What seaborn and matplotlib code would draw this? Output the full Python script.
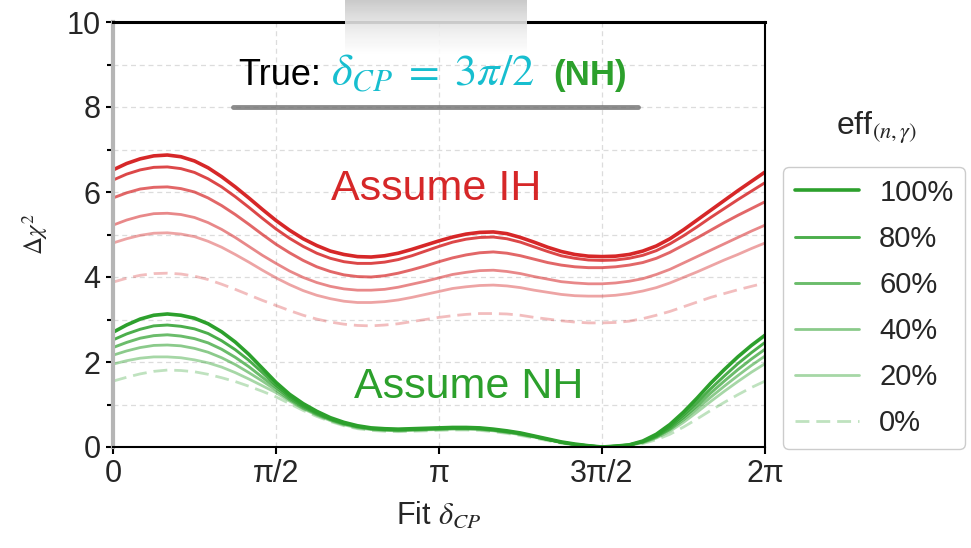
import numpy as np
import matplotlib
matplotlib.use("Agg")
import matplotlib.pyplot as plt
from matplotlib.lines import Line2D
import seaborn as sns

# Fit delta_CP sampled every pi/24 from 0 to 2*pi
fit_steps = list(range(49))
efficiency_labels = ["100%", "80%", "60%", "40%", "20%", "0%"]
x_tick_labels = ["0", "π/2", "π", "3π/2", "2π"]

# Delta chi^2 when the inverted hierarchy is assumed
ih_100 = [6.52, 6.67, 6.78, 6.85, 6.87, 6.83, 6.73, 6.57, 6.36, 6.12, 5.86, 5.59, 5.33, 5.10, 4.90, 4.74, 4.61,
          4.53, 4.48, 4.47, 4.50, 4.56, 4.65, 4.75, 4.85, 4.94, 5.01, 5.05, 5.06, 5.02, 4.93, 4.82, 4.70,
          4.60, 4.53, 4.49, 4.48, 4.49, 4.53, 4.61, 4.73, 4.90, 5.11, 5.34, 5.57, 5.80, 6.03, 6.25, 6.47]
ih_80 = [6.28, 6.42, 6.52, 6.58, 6.59, 6.55, 6.46, 6.31, 6.12, 5.89, 5.64, 5.38, 5.13, 4.91, 4.72, 4.56, 4.44,
         4.36, 4.32, 4.32, 4.35, 4.41, 4.50, 4.61, 4.72, 4.82, 4.89, 4.93, 4.94, 4.90, 4.82, 4.71, 4.60,
         4.50, 4.44, 4.40, 4.39, 4.40, 4.44, 4.51, 4.62, 4.78, 4.97, 5.18, 5.40, 5.61, 5.82, 6.02, 6.22]
ih_60 = [5.86, 5.98, 6.07, 6.11, 6.12, 6.08, 6.00, 5.86, 5.68, 5.47, 5.24, 5.00, 4.77, 4.57, 4.39, 4.24, 4.13,
         4.05, 4.01, 4.00, 4.03, 4.09, 4.17, 4.26, 4.36, 4.45, 4.52, 4.57, 4.59, 4.56, 4.50, 4.42, 4.34,
         4.28, 4.24, 4.22, 4.22, 4.24, 4.28, 4.34, 4.44, 4.58, 4.75, 4.92, 5.10, 5.28, 5.45, 5.61, 5.77]
ih_40 = [5.22, 5.34, 5.43, 5.49, 5.50, 5.47, 5.40, 5.28, 5.12, 4.93, 4.72, 4.51, 4.32, 4.14, 3.99, 3.87, 3.78,
         3.72, 3.69, 3.69, 3.71, 3.76, 3.83, 3.90, 3.98, 4.06, 4.11, 4.15, 4.16, 4.13, 4.08, 4.01, 3.95,
         3.89, 3.86, 3.84, 3.84, 3.86, 3.90, 3.96, 4.06, 4.18, 4.33, 4.48, 4.63, 4.78, 4.93, 5.08, 5.22]
ih_20 = [4.80, 4.90, 4.98, 5.03, 5.04, 5.01, 4.95, 4.84, 4.70, 4.53, 4.35, 4.16, 3.98, 3.82, 3.68, 3.57, 3.49,
         3.43, 3.40, 3.40, 3.42, 3.46, 3.52, 3.59, 3.66, 3.73, 3.77, 3.80, 3.81, 3.79, 3.75, 3.69, 3.64,
         3.59, 3.56, 3.55, 3.55, 3.57, 3.61, 3.67, 3.75, 3.86, 3.99, 4.12, 4.26, 4.40, 4.53, 4.67, 4.80]
ih_0 = [3.88, 3.97, 4.04, 4.08, 4.09, 4.07, 4.02, 3.94, 3.83, 3.71, 3.58, 3.45, 3.33, 3.21, 3.10, 3.01, 2.94,
        2.89, 2.86, 2.85, 2.87, 2.90, 2.95, 3.00, 3.05, 3.09, 3.12, 3.14, 3.14, 3.13, 3.10, 3.05, 3.01,
        2.97, 2.94, 2.92, 2.92, 2.93, 2.96, 3.02, 3.10, 3.19, 3.30, 3.41, 3.52, 3.61, 3.70, 3.78, 3.86]

# Delta chi^2 when the normal hierarchy is assumed
nh_100 = [2.70, 2.87, 3.01, 3.10, 3.13, 3.10, 3.03, 2.90, 2.71, 2.47, 2.18, 1.85, 1.52, 1.24, 1.02, 0.84, 0.69,
          0.58, 0.50, 0.45, 0.43, 0.42, 0.43, 0.44, 0.45, 0.46, 0.46, 0.45, 0.42, 0.38, 0.33, 0.26, 0.19,
          0.12, 0.07, 0.03, 0.00, 0.02, 0.05, 0.14, 0.30, 0.53, 0.82, 1.15, 1.50, 1.82, 2.12, 2.39, 2.63]
nh_80 = [2.52, 2.66, 2.77, 2.85, 2.87, 2.84, 2.78, 2.67, 2.50, 2.29, 2.04, 1.75, 1.45, 1.19, 0.98, 0.81, 0.67,
         0.56, 0.49, 0.44, 0.42, 0.41, 0.42, 0.43, 0.44, 0.45, 0.45, 0.44, 0.41, 0.37, 0.32, 0.25, 0.18,
         0.11, 0.06, 0.03, 0.00, 0.02, 0.05, 0.13, 0.27, 0.48, 0.75, 1.05, 1.37, 1.67, 1.96, 2.22, 2.46]
nh_60 = [2.34, 2.46, 2.56, 2.62, 2.64, 2.61, 2.55, 2.45, 2.30, 2.11, 1.89, 1.64, 1.40, 1.15, 0.95, 0.79, 0.65,
         0.55, 0.48, 0.43, 0.41, 0.40, 0.41, 0.42, 0.43, 0.44, 0.44, 0.43, 0.40, 0.36, 0.31, 0.25, 0.18,
         0.11, 0.06, 0.03, 0.00, 0.02, 0.05, 0.12, 0.25, 0.44, 0.69, 0.97, 1.27, 1.55, 1.82, 2.07, 2.30]
nh_40 = [2.16, 2.26, 2.34, 2.39, 2.40, 2.38, 2.32, 2.23, 2.10, 1.94, 1.75, 1.55, 1.34, 1.11, 0.92, 0.77, 0.64,
         0.54, 0.47, 0.42, 0.40, 0.39, 0.40, 0.41, 0.42, 0.43, 0.43, 0.42, 0.39, 0.35, 0.30, 0.24, 0.17,
         0.11, 0.06, 0.03, 0.00, 0.02, 0.04, 0.11, 0.23, 0.41, 0.64, 0.90, 1.17, 1.43, 1.68, 1.92, 2.14]
nh_20 = [1.95, 2.03, 2.09, 2.12, 2.12, 2.10, 2.05, 1.98, 1.88, 1.75, 1.60, 1.44, 1.28, 1.08, 0.90, 0.75, 0.62,
         0.52, 0.45, 0.41, 0.39, 0.38, 0.39, 0.40, 0.41, 0.42, 0.42, 0.41, 0.38, 0.34, 0.29, 0.23, 0.17,
         0.10, 0.05, 0.02, 0.00, 0.02, 0.04, 0.10, 0.21, 0.37, 0.58, 0.82, 1.07, 1.31, 1.54, 1.76, 1.96]
nh_0 = [1.55, 1.64, 1.72, 1.78, 1.81, 1.80, 1.77, 1.71, 1.63, 1.54, 1.43, 1.31, 1.18, 1.02, 0.86, 0.72, 0.60,
        0.50, 0.43, 0.39, 0.37, 0.36, 0.37, 0.38, 0.39, 0.40, 0.40, 0.39, 0.36, 0.32, 0.27, 0.21, 0.15,
        0.09, 0.05, 0.02, 0.00, 0.01, 0.03, 0.08, 0.17, 0.30, 0.47, 0.66, 0.86, 1.05, 1.23, 1.40, 1.55]

RED = "#d62728"
GREEN = "#2ca02c"
CYAN = "#17becf"

ih_curves = [ih_100, ih_80, ih_60, ih_40, ih_20, ih_0]
nh_curves = [nh_100, nh_80, nh_60, nh_40, nh_20, nh_0]
alphas = [1.0, 0.85, 0.7, 0.55, 0.42, 0.3]
widths = [2.6, 2.1, 2.1, 2.0, 2.0, 2.0]
styles = ["-", "-", "-", "-", "-", (0, (5, 2.5))]

delta = np.array(fit_steps) * np.pi / 24

sns.set_theme(style="ticks")
plt.rcParams["font.family"] = ["Liberation Sans", "DejaVu Sans"]
plt.rcParams["mathtext.fontset"] = "stix"

W, H = 971, 548
fig = plt.figure(figsize=(W / 100, H / 100), dpi=100)
ax = fig.add_axes([113 / W, 1 - 447 / H, 652 / W, 425 / H])

for curves, color in ((ih_curves, RED), (nh_curves, GREEN)):
    for vals, a, lw, ls in zip(curves, alphas, widths, styles):
        sns.lineplot(x=delta, y=vals, ax=ax, color=color, alpha=a,
                     linewidth=lw, linestyle=ls, legend=False)

ax.set_xlim(0, 2 * np.pi)
ax.set_ylim(0, 10)
ax.set_xticks(np.arange(5) * np.pi / 2)
ax.set_xticklabels(x_tick_labels)
ax.set_yticks(np.arange(0, 11, 2))
ax.set_yticks(np.arange(1, 10, 2), minor=True)
ax.tick_params(axis="both", which="major", labelsize=22, length=5, width=1.5,
               color="black", pad=4)
ax.tick_params(axis="y", which="minor", length=4, width=1.5, color="black")

ax.grid(True, axis="y", which="both", color="#dcdcdc", linestyle=(0, (4, 3)), linewidth=0.9)
ax.grid(True, axis="x", which="major", color="#dcdcdc", linestyle=(0, (4, 3)), linewidth=0.9)

for side in ("bottom", "right"):
    ax.spines[side].set_color("black")
    ax.spines[side].set_linewidth(1.5)
ax.spines["top"].set_color("black")
ax.spines["top"].set_linewidth(2.2)
ax.spines["left"].set_color("#b5b5b5")
ax.spines["left"].set_linewidth(3)

ax.set_xlabel(r"Fit $\delta_{CP}$", fontsize=22, labelpad=8)
ax.set_ylabel(r"$\Delta\chi^2$", fontsize=18, labelpad=12)

ax.text(3.117, 5.81, "Assume IH", color=RED, fontsize=31, ha="center", va="baseline")
ax.text(3.426, 1.15, "Assume NH", color=GREEN, fontsize=31, ha="center", va="baseline")

# Header line stating the true oscillation parameters
fig.text(238 / W, 1 - 85 / H, "True:", fontsize=26, color="black", ha="left", va="baseline")
fig.text(331 / W, 1 - 85 / H, r"$\delta_{CP}\;=\;3\pi/2$", fontsize=32, color=CYAN,
         ha="left", va="baseline")
fig.text(553 / W, 1 - 85 / H, "(NH)", fontsize=25, color=GREEN, fontweight="bold",
         ha="left", va="baseline")

# Slide-style grey shading around the header
fig.add_artist(Line2D([233 / W, 638 / W], [1 - 107 / H, 1 - 107 / H], transform=fig.transFigure,
                      color="#6f6f6f", linewidth=3.5, alpha=0.8, solid_capstyle="round"))
shade = fig.add_axes([345 / W, 1 - 54 / H, 182 / W, 54 / H], zorder=0.5)
gradient = np.linspace(0.75, 0.0, 60).reshape(-1, 1) * np.ones((1, 10))
shade.imshow(gradient, cmap="Greys", vmin=0, vmax=2.2, aspect="auto", alpha=0.9)
shade.axis("off")

handles = [Line2D([0], [0], color=GREEN, alpha=a, linewidth=lw, linestyle=ls)
           for a, lw, ls in zip(alphas, widths, styles)]
leg = fig.legend(handles, efficiency_labels, loc="upper left",
                 bbox_to_anchor=(783 / W, 1 - 167 / H), fontsize=21, frameon=True,
                 handlelength=2.2, handletextpad=0.7, labelspacing=0.62, borderpad=0.4,
                 borderaxespad=0, fancybox=True, framealpha=1)
leg.get_frame().set_edgecolor("#cccccc")
leg.get_frame().set_linewidth(1.0)
fig.text(877 / W, 1 - 135 / H, r"eff$_{(n,\gamma)}$", fontsize=23, ha="center", va="baseline")

fig.savefig("out.png", dpi=100)
